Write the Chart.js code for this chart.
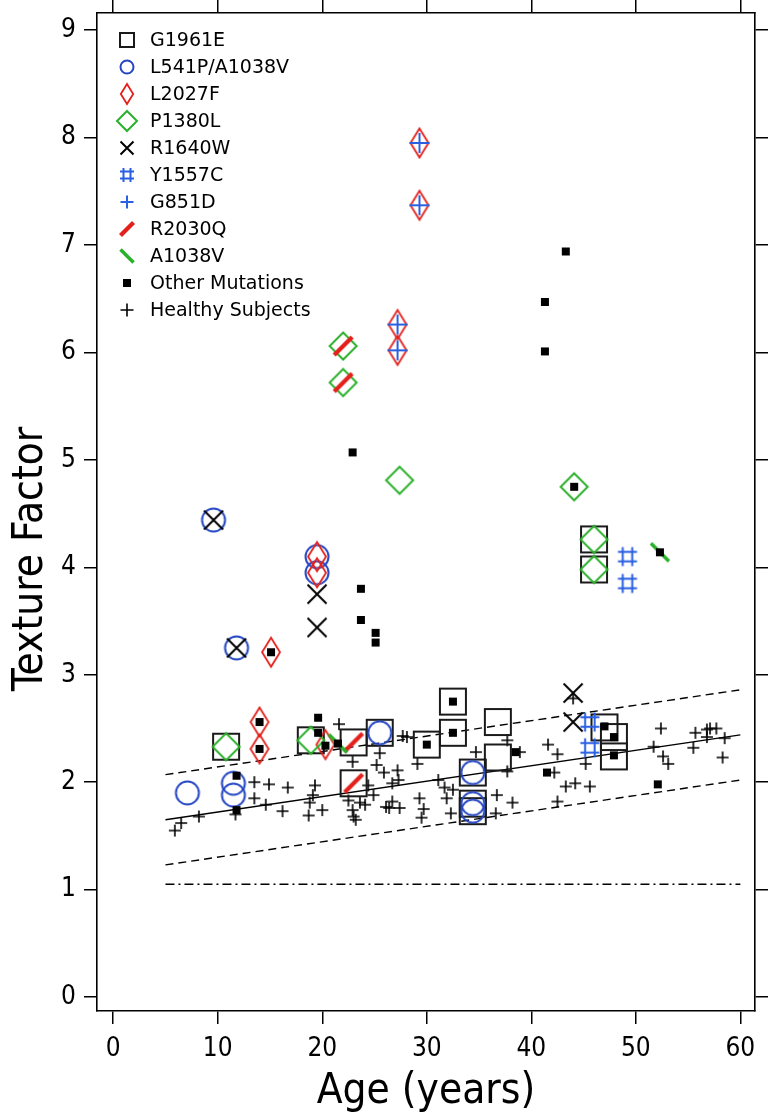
<!DOCTYPE html>
<html>
<head>
<meta charset="utf-8">
<script src="https://cdn.jsdelivr.net/npm/chart.js@4.4.1/dist/chart.umd.min.js"></script>
<style>
  html, body { margin: 0; padding: 0; background: #fff; }
  #wrap { width: 770px; height: 1118px; }
</style>
</head>
<body>
<div id="wrap"><canvas id="chart" width="770" height="1118"></canvas></div>
<script>
/* Texture factor vs age, by mutation group */

// ── Data ([age, texture factor]) ──────────────────
const G1961E = [[46.0,4.26],[46.0,3.98],[10.8,2.33],[18.9,2.39],[23.0,2.37],[25.5,2.46],[30.0,2.35],
  [23.0,1.99],[32.5,2.75],[32.5,2.46],[36.8,2.56],[36.8,2.23],[34.4,2.09],[34.4,1.80],[34.4,1.73],
  [47.0,2.51],[47.9,2.42],[47.9,2.24]];
const L541P = [[9.6,4.44],[19.5,4.10],[19.5,3.95],[11.8,3.25],[7.1,1.90],[11.5,1.99],[11.5,1.88],
  [25.5,2.46],[34.4,2.09],[34.4,1.80],[34.4,1.73]];
const L2027F = [[29.3,7.95],[29.3,7.37],[27.2,6.26],[27.2,6.02],[19.5,4.10],[19.5,3.95],[15.1,3.21],
  [14.0,2.56],[14.0,2.31],[20.3,2.35]];
const P1380L = [[22.0,6.06],[22.0,5.72],[27.4,4.81],[44.1,4.75],[46.0,4.26],[46.0,3.98],[10.8,2.33],[18.9,2.39]];
const R1640W = [[9.6,4.44],[11.8,3.25],[19.5,3.75],[19.5,3.44],[44.0,2.83],[44.0,2.56]];
const Y1557C = [[49.2,4.10],[49.2,3.85],[45.6,2.56],[45.6,2.32]];
const G851D  = [[29.3,7.95],[29.3,7.37],[27.2,6.26],[27.2,6.02]];
const R2030Q = [[22.0,6.06],[22.0,5.72],[23.0,2.37],[23.0,1.99]];
const A1038V = [[52.3,4.14],[21.5,2.36]];
const OTHER  = [[43.3,6.94],[41.3,6.47],[41.3,6.01],[22.9,5.07],[44.1,4.75],[52.3,4.14],[23.7,3.80],
  [23.7,3.51],[25.1,3.39],[25.1,3.30],[15.1,3.21],[14.0,2.56],[14.0,2.31],[19.6,2.60],[19.6,2.46],
  [20.3,2.34],[21.5,2.36],[11.8,2.06],[11.8,1.74],[32.5,2.75],[32.5,2.46],[30.0,2.35],[38.5,2.28],
  [41.5,2.09],[47.0,2.52],[47.9,2.42],[47.9,2.25],[52.1,1.98]];
const HEALTHY = [[5.9,1.55],[6.5,1.62],[8.2,1.68],[11.7,1.70],[13.5,2.00],[14.9,1.98],[16.7,1.95],
  [13.5,1.85],[14.6,1.79],[16.2,1.73],[18.8,1.81],[18.7,1.69],[19.3,1.97],[19.1,1.88],[20.0,1.74],
  [21.6,2.54],[22.9,2.19],[22.5,1.83],[22.9,1.74],[23.0,1.68],[23.2,1.65],[23.6,1.81],[24.1,1.79],
  [24.4,1.97],[24.9,1.88],[25.5,2.27],[25.2,2.16],[25.9,2.09],[27.2,2.11],[27.3,2.02],[26.7,1.99],
  [26.7,1.82],[26.1,1.77],[26.4,1.76],[27.4,1.76],[27.7,2.43],[28.1,2.42],[29.1,2.17],[29.3,1.85],
  [29.7,1.75],[29.5,1.67],[31.1,2.02],[31.7,1.95],[32.5,1.93],[31.9,1.85],[32.3,1.71],[34.7,2.28],
  [37.7,2.39],[38.9,2.28],[41.6,2.35],[42.5,2.26],[42.2,2.09],[36.7,1.88],[38.2,1.81],[36.6,1.71],
  [43.3,1.96],[44.2,1.99],[45.6,1.96],[42.5,1.82],[45.2,2.17],[37.7,2.10],[44.0,2.78],[52.4,2.50],
  [51.7,2.33],[52.6,2.24],[53.1,2.17],[55.7,2.46],[55.5,2.32],[56.8,2.49],[57.1,2.50],[57.7,2.50],
  [56.8,2.42],[58.5,2.41],[58.3,2.23]];

// regression line, ±band, and lower normal limit
const lineX  = [5, 60];
const fitY   = [1.65, 2.44];
const upperY = [2.07, 2.86];
const lowerY = [1.23, 2.02];
const limitY = [1.05, 1.05];

const xTicks = [0, 10, 20, 30, 40, 50, 60];
const yTicks = [0, 1, 2, 3, 4, 5, 6, 7, 8, 9];

// ── Marker styles ─────────────────────────────────
const RED = "#e3201b", GREEN = "#2bb02b", BLUE = "#2446c2", BLUE2 = "#2a5fe2";

const STYLE = {
  square:  { color: "#1a1a1a", plot: 26, leg: 14, lw: 2 },
  circle:  { color: BLUE,   plot: 23, leg: 13, lw: 2 },
  thin:    { color: RED,    plot: 29, leg: 20, lw: 1.8 },
  diamond: { color: GREEN,  plot: 27, leg: 20, lw: 2 },
  cross:   { color: "#000", plot: 19, leg: 13, lw: 2 },
  hash:    { color: BLUE2,  plot: 19, leg: 14, lw: 2 },
  plus:    { color: BLUE2,  plot: 20, leg: 13, lw: 2 },
  slash:   { color: RED,    plot: 18, leg: 13, lw: 4.2 },
  back:    { color: GREEN,  plot: 18, leg: 13, lw: 3.6 },
  fill:    { color: "#000", plot: 8,  leg: 8,  lw: 0 },
  hplus:   { color: "#000", plot: 12, leg: 13, lw: 1.6 },
};

function marker(kind, s) {
  const st = STYLE[kind];
  const half = Math.ceil(s / 2 + st.lw + 2);
  const c = document.createElement("canvas");
  c.width = c.height = half * 2;
  const g = c.getContext("2d");
  g.translate(half, half);
  g.strokeStyle = st.color;
  g.fillStyle = st.color;
  g.lineWidth = st.lw;
  const r = s / 2, q = r * 0.5;
  g.beginPath();
  switch (kind) {
    case "square":  g.rect(-r, -r, s, s); break;
    case "circle":  g.arc(0, 0, r, 0, Math.PI * 2); break;
    case "thin":    g.moveTo(0, -r); g.lineTo(r * 0.62, 0); g.lineTo(0, r); g.lineTo(-r * 0.62, 0); g.closePath(); break;
    case "diamond": g.moveTo(0, -r); g.lineTo(r, 0); g.lineTo(0, r); g.lineTo(-r, 0); g.closePath(); break;
    case "cross":   g.moveTo(-r, -r); g.lineTo(r, r); g.moveTo(r, -r); g.lineTo(-r, r); break;
    case "hash":
      g.moveTo(-q, -r); g.lineTo(-q, r); g.moveTo(q, -r); g.lineTo(q, r);
      g.moveTo(-r, -q); g.lineTo(r, -q); g.moveTo(-r, q); g.lineTo(r, q); break;
    case "plus":
    case "hplus":   g.moveTo(-r, 0); g.lineTo(r, 0); g.moveTo(0, -r); g.lineTo(0, r); break;
    case "slash":   g.moveTo(-r, r); g.lineTo(r, -r); break;
    case "back":    g.moveTo(-r, -r); g.lineTo(r, r); break;
    case "fill":    g.fillRect(-r, -r, s, s); break;
  }
  if (kind !== "fill") g.stroke();
  return c;
}

const SERIES = [
  { label: "G1961E",          pts: G1961E,  kind: "square"  },
  { label: "L541P/A1038V",    pts: L541P,   kind: "circle"  },
  { label: "L2027F",          pts: L2027F,  kind: "thin"    },
  { label: "P1380L",          pts: P1380L,  kind: "diamond" },
  { label: "R1640W",          pts: R1640W,  kind: "cross"   },
  { label: "Y1557C",          pts: Y1557C,  kind: "hash"    },
  { label: "G851D",           pts: G851D,   kind: "plus"    },
  { label: "R2030Q",          pts: R2030Q,  kind: "slash"   },
  { label: "A1038V",          pts: A1038V,  kind: "back"    },
  { label: "Other Mutations", pts: OTHER,   kind: "fill"    },
  { label: "Healthy Subjects",pts: HEALTHY, kind: "hplus"   },
];

const toXY = pts => pts.map(([x, y]) => ({ x, y }));
const lineData = ys => lineX.map((x, i) => ({ x, y: ys[i] }));

const datasets = SERIES.map((s, i) => ({
  label: s.label,
  data: toXY(s.pts),
  pointStyle: marker(s.kind, STYLE[s.kind].plot),
  pointRadius: 6,
  legendIcon: marker(s.kind, STYLE[s.kind].leg),
  order: s.kind === "hplus" ? 12 : 10 - i + (s.kind === "fill" ? -5 : 0),
}));

const refLine = (ys, dash) => ({
  label: "",
  data: lineData(ys),
  showLine: true,
  borderColor: "#000",
  borderWidth: 1.4,
  borderDash: dash,
  pointRadius: 0,
  order: 20,
});
datasets.push(refLine(fitY, []), refLine(upperY, [8, 5]), refLine(lowerY, [8, 5]), refLine(limitY, [9, 4, 2, 4]));

// ── Fonts ──────────────────────────────────────────
const FAMILY = "'DejaVu Sans Condensed', 'Liberation Sans Narrow', 'DejaVu Sans', sans-serif";
const TICK_FONT  = { family: FAMILY, size: 26 };
const TITLE_FONT = { family: FAMILY, size: 42 };

// ── Inset legend (top-left of plot) + y title ──────
const insetLegend = {
  id: "insetLegend",
  afterDatasetsDraw(chart) {
    const { ctx, chartArea } = chart;
    const mx = chartArea.left + 30, tx = chartArea.left + 53;
    ctx.save();
    ctx.font = "19px 'DejaVu Sans', Verdana, sans-serif";
    ctx.fillStyle = "#000";
    ctx.textBaseline = "middle";
    chart.data.datasets.filter(d => d.legendIcon).forEach((d, i) => {
      const y = chartArea.top + 27 + i * 27;
      const ic = d.legendIcon;
      ctx.drawImage(ic, Math.round(mx - ic.width / 2), Math.round(y - ic.height / 2));
      ctx.fillText(d.label, tx, y + 1);
    });
    ctx.restore();
  },
};

const yTitle = {
  id: "yTitle",
  afterDraw(chart) {
    const { ctx, chartArea } = chart;
    ctx.save();
    ctx.translate(31, (chartArea.top + chartArea.bottom) / 2 + 47);
    ctx.rotate(-Math.PI / 2);
    ctx.font = `${TITLE_FONT.size}px ${FAMILY}`;
    ctx.fillStyle = "#000";
    ctx.textAlign = "center";
    ctx.textBaseline = "middle";
    ctx.fillText("Texture Factor", 0, 0);
    ctx.restore();
  },
};

// ── Axes ───────────────────────────────────────────
const X_MIN = -1.55, X_MAX = 61.4, Y_MIN = -0.13, Y_MAX = 9.16;

function axis(position, min, max, ticks, size, extra) {
  const horizontal = position === "top" || position === "bottom";
  return {
    type: "linear",
    position,
    min, max,
    afterBuildTicks: s => { s.ticks = ticks.map(v => ({ value: v })); },
    afterFit: s => {
      if (horizontal) s.height = size; else s.width = size;
      // frame is fixed; labels may hang past it
      s.paddingTop = s.paddingBottom = s.paddingLeft = s.paddingRight = 0;
    },
    grid: { drawOnChartArea: false, drawTicks: true, tickLength: 13, color: "#000", lineWidth: 1.5 },
    border: { display: true, color: "#000", width: 1.6 },
    ticks: { display: false },
    ...extra,
  };
}

new Chart(document.getElementById("chart"), {
  type: "scatter",
  data: { datasets },
  plugins: [insetLegend, yTitle],
  options: {
    responsive: false,
    animation: false,
    events: [],
    layout: { padding: 0, autoPadding: false },
    plugins: { legend: { display: false }, tooltip: { enabled: false } },
    scales: {
      x: axis("bottom", X_MIN, X_MAX, xTicks, 107, {
        ticks: { display: true, font: TICK_FONT, color: "#000", padding: 10, maxRotation: 0, autoSkip: false },
        title: { display: true, text: "Age (years)", font: TITLE_FONT, color: "#000", padding: { top: 0, bottom: 1 } },
      }),
      xTop: axis("top", X_MIN, X_MAX, xTicks, 13),
      y: axis("left", Y_MIN, Y_MAX, yTicks, 97, {
        ticks: { display: true, font: TICK_FONT, color: "#000", padding: 8, autoSkip: false },
      }),
      yRight: axis("right", Y_MIN, Y_MAX, yTicks, 15),
    },
  },
});
</script>
</body>
</html>
